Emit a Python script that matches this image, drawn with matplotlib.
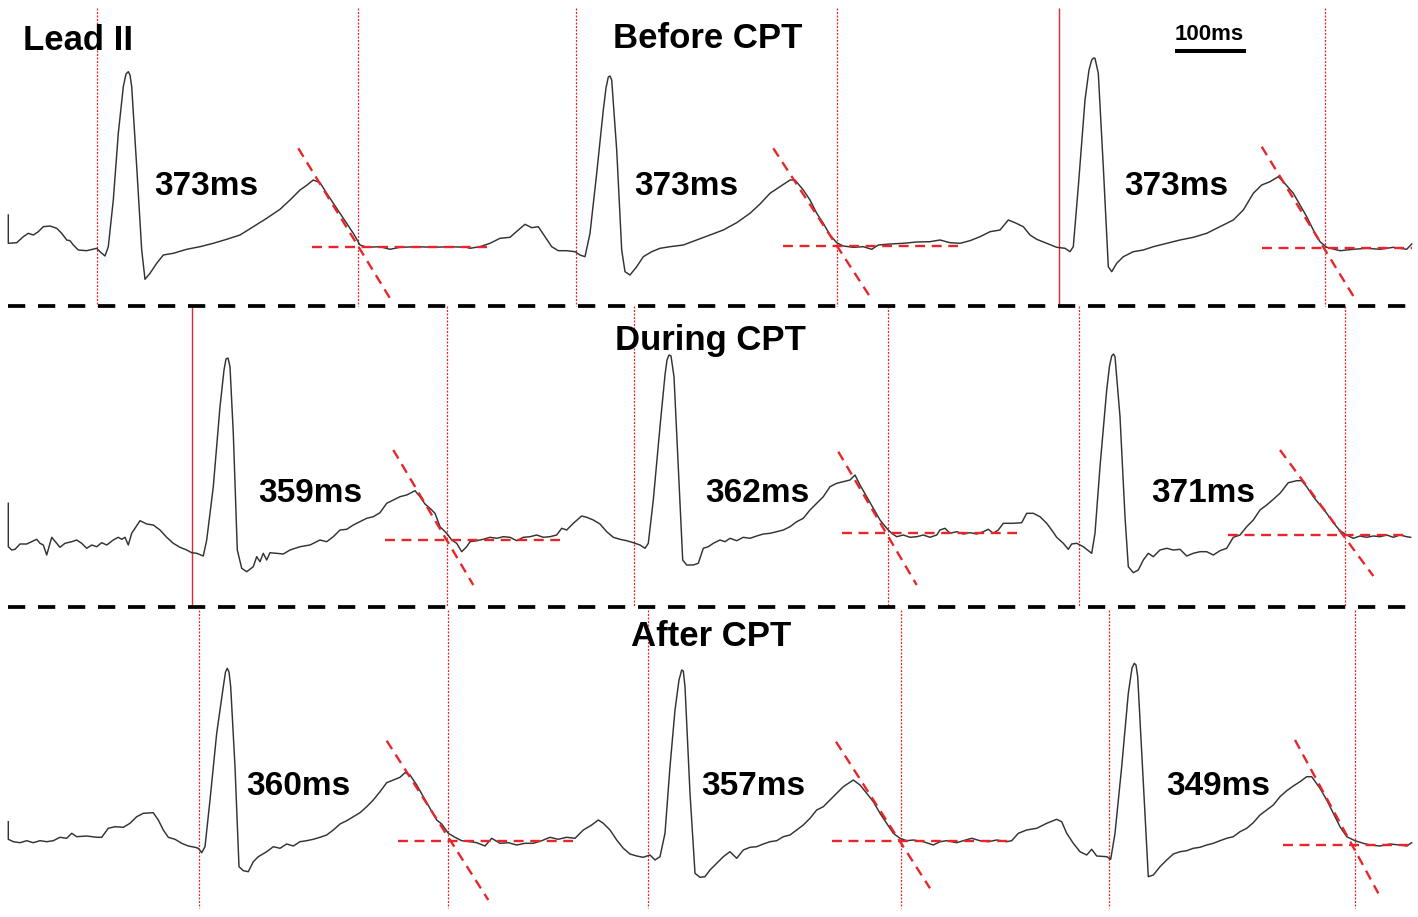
import matplotlib
matplotlib.use("Agg")
import matplotlib.pyplot as plt

# ---------------- data (x = time in samples, y = amplitude in screen units) ----
row_titles = ["Before CPT", "During CPT", "After CPT"]
qt_labels = [["373ms", "373ms", "373ms"],
             ["359ms", "362ms", "371ms"],
             ["360ms", "357ms", "349ms"]]

row1_t = [8.3, 8.3, 16.7, 23.3, 28.3, 33.3, 38.3, 43.3, 50, 56.7, 61.7, 66.7, 70, 73.3, 78.3, 86.7, 96.7,
          100, 105, 108.3, 113.3, 118.3, 123.3, 126, 128.3, 130, 131.7, 136.7, 141.7, 145, 150, 156.7, 163.3,
          173.3, 186.7, 200, 213.3, 226.7, 240, 253.3, 266.7, 280, 290, 300, 306.7, 313.3, 320, 326.7,
          333.3, 340, 346.7, 353.3, 360, 366.7, 380, 390, 400, 416.7, 433.3, 450, 466.7,
          470, 480, 490, 500, 510, 518.3, 525, 531.7, 538.3, 545, 551.7, 558.3, 566.7, 575, 580, 585,
          590, 596.7, 603.3, 606, 608.3, 610, 611.7, 616.7, 621.7, 625, 630, 636.7, 643.3, 651.7, 660,
          670, 683.3, 696.7, 710, 723.3, 736.7, 750, 760, 770, 780, 790, 795, 803.3, 810, 816.7, 823.3,
          830, 836.7, 843.3, 853.3, 863.3, 871.7, 878.3, 890, 903.3, 916.7, 930,
          940, 950, 960, 970, 980, 990, 1000, 1008.3, 1015, 1023.3, 1030, 1036.7, 1046.7, 1056.7, 1065,
          1070, 1073.3, 1078.3, 1085, 1089, 1091.7, 1093.5, 1095, 1098.3, 1103.3, 1108.3, 1111.7, 1116.7,
          1123.3, 1133.3, 1143.3, 1153.3, 1166.7, 1180, 1193.3, 1206.7, 1220, 1233.3, 1243.3, 1253.3,
          1261.7, 1270, 1278.3, 1283.3, 1293.3, 1300, 1306.7, 1313.3, 1320, 1326.7, 1340, 1353.3, 1366.7,
          1380, 1393.3, 1406.7, 1411.7]
row1_v = [215, 243.3, 242.7, 236.7, 233.3, 235, 231.7, 226.7, 226, 228.3, 233.3, 240, 240.7, 245, 250, 250.7,
          248.3, 251.7, 256, 246.7, 200, 133.3, 86.7, 74, 71.7, 75, 86.7, 166.7, 250, 279.3, 273.3, 263.3,
          255, 253.3, 249.3, 246.7, 243.3, 239.3, 235, 226.7, 218.3, 209.3, 200, 190, 185.3, 180, 182.7,
          193.3, 203.3, 213.3, 223.3, 233.3, 245, 247.3, 246.7, 249.3, 247.3, 246.7, 247.3, 246.7, 247.3,
          248.3, 246.7, 243.3, 238.3, 237.3, 230, 224.3, 227.7, 226.7, 236.7, 246.7, 250.7, 250.7, 251.7,
          255, 256.7, 233.3, 173.3, 110, 88, 77, 76, 80, 150, 250, 271.7, 275, 266.7, 256.7, 251.7, 248.3,
          246.7, 245, 240, 235, 230, 222.7, 213.3, 204, 193.3, 186.7, 180, 180, 190, 200, 213.3, 223.3,
          235, 242.7, 246, 247.3, 246.7, 249.3, 245, 244, 243.3, 242, 241.7,
          240, 242.7, 243.3, 240.7, 236.7, 231.7, 230, 220, 222.7, 226.7, 235, 239.3, 243.3, 247.3, 248.3,
          251.7, 246.7, 186.7, 100, 70, 60, 58, 58.3, 73.3, 166.7, 266.7, 271.7, 263.3,
          256.7, 251.7, 250, 246.7, 243.3, 240, 237.3, 233.3, 226.7, 220, 210, 193.3,
          185, 181.7, 176.7, 181.7, 193.3, 205, 216.7, 230, 241.7, 247.3, 250.7, 249.3, 248.3,
          249.3, 247.3, 249.3, 244]

row2_t = [8.3, 8.3, 11.7, 15, 20, 26.7, 31.7, 36.7, 40, 43.3, 46.7, 51.7, 56.7, 60, 65, 71.7, 76.7, 81.7,
          86.7, 91.7, 96.7, 101.7, 106.7, 113.3, 118.3, 121.7, 125, 128.3, 131.7, 140, 146.7, 153.3, 160,
          166.7, 173.3, 180, 186.7, 191.7, 196.7, 203.3, 206.7, 213.3, 220, 224, 226, 228, 230, 233.3,
          237.3, 241.7, 246.7, 253.3, 256.7, 260, 263.3, 266.7, 270, 276.7, 283.3, 290, 300, 310, 320,
          326.7, 333.3, 340, 346.7, 353.3, 360, 366.7, 373.3, 380, 386.7, 393.3, 400, 406.7, 415, 420,
          425, 430, 435, 440, 446.7, 451.7, 456.7, 461.7, 466.7,
          470, 476.7, 483.3, 490, 496.7, 503.3, 510, 516.7, 523.3, 530, 536.7, 543.3, 550, 556.7, 561.7,
          566.7, 573.3, 581.7, 586.7, 593.3, 600, 606.7, 613.3, 620, 626.7, 633.3, 640, 645, 648.3, 653.3,
          660, 665, 667, 669, 671, 674, 678.3, 682.7, 686.7, 693.3, 698.3, 703.3, 708.3, 713.3, 720, 725,
          730, 736.7, 743.3, 750, 756.7, 763.3, 770, 776.7, 783.3, 790, 796.7, 803.3, 810, 816.7, 823.3,
          830, 836.7, 843.3, 850, 855, 860, 866.7, 873.3, 880, 886.7, 891.7, 896.7, 903.3, 910, 916.7,
          923.3, 930, 936.7,
          940, 945, 950, 956.7, 963.3, 970, 976.7, 983.3, 988.3, 993.3, 998.3, 1003.3, 1013.3, 1021.7,
          1026.7, 1033.3, 1040, 1046.7, 1051.7, 1056.7, 1063.3, 1068.3, 1071.7, 1076.7, 1083.3, 1091.7,
          1095, 1100, 1106.7, 1109.5, 1111.7, 1113.5, 1115, 1120, 1125, 1128.3, 1133.3, 1138.3, 1143.3,
          1148.3, 1153.3, 1160, 1166.7, 1173.3, 1180, 1186.7, 1193.3, 1200, 1206.7, 1213.3, 1220, 1226.7,
          1233.3, 1240, 1246.7, 1253.3, 1260, 1266.7, 1273.3, 1280, 1288.3, 1296.7, 1301.7, 1306.7, 1313.3,
          1320, 1326.7, 1333.3, 1340, 1346.7, 1353.3, 1360, 1366.7, 1373.3, 1380, 1386.7, 1393.3, 1400,
          1406.7, 1410.7]
row2_v = [503.3, 546.7, 550, 549.3, 544, 544, 541.7, 539.3, 543.3, 545, 555, 537.3, 543.3, 547.3, 543.3,
          541.7, 540, 543.3, 548.3, 545, 546.7, 542.7, 545, 540, 537.3, 539.3, 537.3, 545, 533.3, 520.7,
          524, 525, 530, 537.3, 543.3, 547.3, 550, 552.7, 553.3, 556, 540, 486.7, 406.7, 370, 359, 358,
          366.7, 433.3, 550, 568.3, 571.7, 566.7, 556.7, 561.7, 553.3, 560, 552.7, 553.3, 554, 550, 546.7,
          545, 540, 541.7, 536.7, 530, 529.3, 525, 521.7, 518.3, 516.7, 512.7, 503.3, 500, 496.7, 495,
          490.7, 496.7, 504, 508.3, 513.3, 526.7, 533.3, 540, 543.3, 551.7, 546.7,
          541.7, 540.7, 539.3, 537.3, 538.3, 536.7, 537.3, 540.7, 537.3, 536.7, 535, 537.3, 536.7, 535,
          528.3, 530, 523.3, 516, 517.3, 520, 524, 531.7, 537.3, 539.3, 540.7, 542.7, 545, 548.3, 543.3,
          500, 426.7, 375, 360, 355, 356, 376.7, 466.7, 560, 565, 565, 563.3, 548.3, 546.7, 543.3, 540,
          541.7, 538.3, 540.7, 537.3, 538.3, 536, 534, 533.3, 531.7, 530, 526.7, 521.7, 518.3, 510, 503.3,
          496.7, 486.7, 483.3, 481.7, 480, 475, 485, 496.7, 508.3, 520, 528.3, 533.3, 536.7, 535, 537.3,
          536.7, 535, 537.3, 535,
          530, 528.3, 533.3, 531.7, 534, 532.7, 534, 531.7, 529.3, 533.3, 530, 523.3, 523.3, 522.7, 513.3,
          513.3, 516.7, 523.3, 530, 537.3, 543.3, 549.3, 544, 543.3, 546.7, 553.3, 533.3, 466.7, 390,
          366, 356, 354, 356.7, 416.7, 516.7, 566.7, 572.7, 570, 560, 553.3, 556.7, 550, 548.3, 550,
          549.3, 556, 553.3, 551.7, 551.7, 555, 550.7, 548.3, 537.3, 535, 526.7, 520, 510, 505, 499.3,
          493.3, 482.7, 480.7, 480.7, 486.7, 496.7, 505, 513.3, 522.7, 530.7, 535, 538.3, 536, 537.3,
          536, 536.7, 535, 537.3, 535, 536.7, 537.3]

row3_t = [8.3, 8.3, 13.3, 20, 26.7, 33.3, 40, 46.7, 53.3, 60, 66.7, 71.7, 76.7, 86.7, 96.7, 101.7, 108.3,
          115, 123.3, 130, 136.7, 143.3, 153.3, 158.3, 163.3, 168.3, 175, 181.7, 188.3, 195, 198.3, 201.7,
          205, 210, 216.7, 223.3, 225.5, 227.3, 229, 230.7, 235, 239, 243.3, 248.3, 253.3, 258.3, 266.7,
          273.3, 280, 286.7, 293.3, 300, 306.7, 313.3, 320, 326.7, 333.3, 340, 346.7, 353.3, 360, 366.7,
          373.3, 380, 386.7, 393.3, 400, 405, 410, 416.7, 423.3, 430, 436.7, 441.7, 448.3, 455, 461.7,
          470, 476.7, 485, 491.7, 500, 508.3, 516.7, 525, 533.3, 541.7, 550, 558.3, 566.7, 575, 583.3,
          591.7, 598.3, 603.3, 610, 616.7, 623.3, 630, 636.7, 643.3, 650, 655, 660, 665, 670, 675, 679,
          681.7, 683.3, 685, 690, 695, 700, 705, 710, 716.7, 723.3, 730, 736.7, 743.3, 750, 756.7, 763.3,
          770, 776.7, 783.3, 790, 796.7, 803.3, 810, 816.7, 823.3, 830, 836.7, 843.3, 853.3, 860, 866.7,
          873.3, 880, 886.7, 893.3, 900, 906.7, 913.3, 923.3, 933.3,
          940, 946.7, 956.7, 963.3, 971.7, 980, 988.3, 996.7, 1006.7, 1011.7, 1018.3, 1026.7, 1036.7,
          1046.7, 1056.7, 1061.7, 1066.7, 1073.3, 1080, 1086.7, 1091.7, 1096.7, 1106.7, 1110.7, 1115,
          1121.7, 1128.3, 1132, 1134.3, 1136, 1137.7, 1143.3, 1148.3, 1153.3, 1160, 1166.7, 1173.3, 1180,
          1186.7, 1193.3, 1200, 1206.7, 1213.3, 1220, 1226.7, 1233.3, 1240, 1246.7, 1253.3, 1260, 1266.7,
          1273.3, 1280, 1286.7, 1293.3, 1300, 1306.7, 1311.7, 1320, 1326.7, 1333.3, 1340, 1346.7, 1355,
          1363.3, 1370, 1380, 1390, 1400, 1406.7, 1411.7]
row3_v = [821.7, 839.3, 841.7, 842.7, 840.7, 842.7, 840.7, 841.7, 840.7, 837.3, 838.3, 833.3, 836.7, 836,
          837.3, 837.3, 828.3, 826.7, 827.3, 823.3, 816.7, 813.3, 812.7, 820, 830, 837.3, 839.3, 843.3,
          846, 847.3, 848.3, 852.7, 846.7, 800, 733.3, 686.7, 672, 668.3, 672, 686.7, 766.7, 866.7, 870.7,
          871.7, 861.7, 856.7, 851.7, 846.7, 848.3, 844, 846, 841.7, 840.7, 839.3, 837.3, 835, 830, 824,
          820.7, 816.7, 812.7, 806.7, 800, 791.7, 782.7, 780, 777.3, 772.7, 775, 785, 796.7, 808.3, 820,
          824, 833.3, 837.3, 840.7,
          841.7, 842.7, 846, 838.3, 843.3, 842.7, 845, 843.3, 843.3, 840.7, 837.3, 839.3, 837.3, 838.3,
          830, 825, 820, 823.3, 830, 840, 848.3, 854, 856, 857.3, 855, 860, 856.7, 833.3, 766.7, 710, 680,
          670, 671, 686.7, 793.3, 873.3, 877.3, 876.7, 870, 863.3, 856.7, 851.7, 858.3, 850, 847.3, 846.7,
          844, 841.7, 840.7, 836.7, 835, 830, 825, 818.3, 810, 806.7, 800, 793.3, 786.7, 780, 785, 793.3,
          801.7, 813.3, 823.3, 833.3, 838.3, 840.7, 840, 841.7, 845,
          841.7, 840.7, 842.7, 840.7, 838.3, 840.7, 841.7, 840, 841.7, 840.7, 833.3, 830, 828.3, 823.3,
          819.3, 821.7, 833.3, 843.3, 851.7, 855, 849.3, 856, 856.7, 859.3, 833.3, 766.7, 693.3, 668,
          663.3, 665, 676.7, 783.3, 876.7, 875, 866.7, 860, 854, 851.7, 850.7, 848.3, 847.3, 845, 843.3,
          840.7, 838.3, 836.7, 831.7, 828.3, 822.7, 815, 810, 805, 796.7, 790.7, 786, 781.7, 776.7, 776.7,
          788.3, 800, 813.3, 826.7, 836.7, 840.7, 843.3, 845, 846, 844, 845, 846, 842.7]

traces_t = [row1_t, row2_t, row3_t]
traces_v = [row1_v, row2_v, row3_v]

# QT interval markers (Q onset / T end) per row
q_onset = [[97, 576, 1059], [192, 634, 1079], [199, 648, 1109]]
t_end = [[358, 836.5, 1325], [447, 888, 1344.5], [448, 901, 1355]]
solid_markers = [1059, 192]
marker_span = [(8, 306), (306, 606), (610, 908)]

# T-wave tangent lines (x0, y0, x1, y1) and isoelectric baselines (x0, x1, y)
tangents = [[(298.3, 148.3, 390, 298.3), (773.3, 148.3, 870, 296.7), (1261.7, 146.7, 1353.3, 296)],
            [(393.3, 450, 473.3, 585), (838.3, 451.7, 916.7, 585), (1280, 450, 1373.3, 576)],
            [(386.7, 740.7, 488.3, 900), (836, 741.7, 930, 888.3), (1295, 740, 1378.3, 893.3)]]
baselines = [[(311.7, 487, 247.3), (783.3, 958, 245.5), (1261.7, 1411.7, 248.3)],
             [(385, 560, 540), (841.7, 1016.7, 533.3), (1228.3, 1405, 535)],
             [(398.3, 573.3, 841), (831.7, 1008, 840.7), (1283.3, 1411.7, 845)]]

# ---------------- layout ----------------
W, H = 1418, 917
label_pos = [[(206.7, 195), (686.7, 195), (1175.8, 195)],
             [(310, 501.7), (757.5, 501.7), (1203, 501.7)],
             [(298.3, 795), (753.3, 795), (1218.3, 795)]]
title_pos = [(708, 48.5), (710, 350), (711, 646.5)]
separators_y = [305.5, 606.5]

RED = "#e8262a"
TRACE = "#333333"
FONT = "Liberation Sans"

fig = plt.figure(figsize=(W / 100, H / 100), dpi=100)
ax = fig.add_axes([0, 0, 1, 1])
ax.set_xlim(0, W)
ax.set_ylim(H, 0)
ax.axis("off")

# red vertical QT markers
for r in range(3):
    y0, y1 = marker_span[r]
    for x in q_onset[r] + t_end[r]:
        if x in solid_markers:
            ax.plot([x, x], [y0, y1], color=RED, lw=1.0, solid_capstyle="butt", zorder=2)
        else:
            ax.plot([x, x], [y0, y1], color=RED, lw=0.9, ls=(0, (1.6, 1.2)), zorder=2)

# tangent & baseline dashed lines
for r in range(3):
    for (x0, y0, x1, y1) in tangents[r]:
        ax.plot([x0, x1], [y0, y1], color=RED, lw=1.7, ls=(0, (4.2, 2.8)), zorder=4)
    for (x0, x1, y) in baselines[r]:
        ax.plot([x0, x1], [y, y], color=RED, lw=1.7, ls=(0, (4.2, 2.8)), zorder=4)

# ECG traces
for t, v in zip(traces_t, traces_v):
    ax.plot(t, v, color=TRACE, lw=1.05, solid_joinstyle="round", zorder=3)

# black dashed separators
for y in separators_y:
    ax.plot([8, 1412], [y, y], color="black", lw=2.7, ls=(0, (4.6, 3.4)), zorder=5)

# scale bar
ax.plot([1175, 1246], [50.5, 50.5], color="black", lw=2.9, solid_capstyle="butt", zorder=5)
ax.text(1209, 39.5, "100ms", fontsize=16, fontweight="bold", family=FONT,
        ha="center", va="baseline", zorder=6)

# texts
ax.text(23, 50, "Lead II", fontsize=25, fontweight="bold", family=FONT, ha="left", va="baseline")
for r in range(3):
    tx, ty = title_pos[r]
    ax.text(tx, ty, row_titles[r], fontsize=25, fontweight="bold", family=FONT,
            ha="center", va="baseline", zorder=6)
    for k in range(3):
        lx, ly = label_pos[r][k]
        ax.text(lx, ly, qt_labels[r][k], fontsize=24, fontweight="bold", family=FONT,
                ha="center", va="baseline", zorder=6)

fig.savefig("out.png", dpi=100)
